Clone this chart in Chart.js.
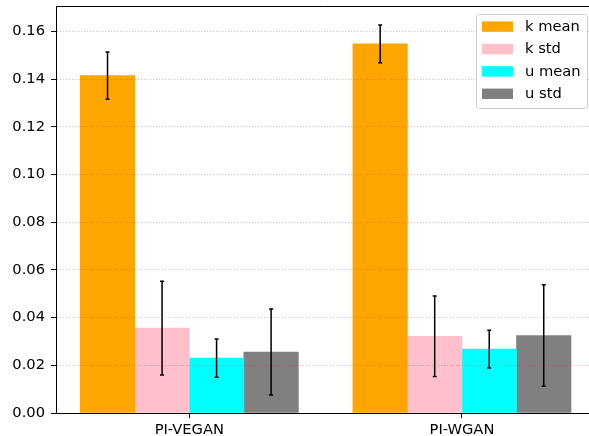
<!DOCTYPE html>
<html><head><meta charset="utf-8">
<script src="https://cdn.jsdelivr.net/npm/chart.js@4/dist/chart.umd.min.js"></script>
<style>html,body{margin:0;padding:0;background:#fff;overflow:hidden}canvas{display:block}</style>
</head><body><canvas id="c" width="589" height="436"></canvas>
<script>
const categories = ['PI-VEGAN', 'PI-WGAN'];
const seriesLabels = ['k mean', 'k std', 'u mean', 'u std'];
const kMean = [0.1415, 0.1548];
const kMeanErr = [0.0099, 0.0079];
const kStd = [0.0356, 0.0322];
const kStdErr = [0.0197, 0.0169];
const uMean = [0.0230, 0.0268];
const uMeanErr = [0.0080, 0.0079];
const uStd = [0.0256, 0.0325];
const uStdErr = [0.0180, 0.0213];
const yTicks = [0, 0.02, 0.04, 0.06, 0.08, 0.10, 0.12, 0.14, 0.16];

const colors = ['#FFA500', '#FFC0CB', '#00FFFF', '#808080'];
const means = [kMean, kStd, uMean, uStd];
const errs = [kMeanErr, kStdErr, uMeanErr, uStdErr];
const FONT = 14.7;

const datasets = seriesLabels.map((label, i) => ({
  label,
  data: means[i].map((v, j) => ({ x: j + (i - 1.5) * 0.2, y: v })),
  err: errs[i],
  backgroundColor: colors[i],
  borderWidth: 0,
  barPercentage: 1,
  categoryPercentage: 1,
  grouped: false
}));

const overlay = {
  id: 'overlay',
  afterDraw(chart) {
    const ctx = chart.ctx, ys = chart.scales.y, ca = chart.chartArea;
    ctx.save();
    // error bars
    ctx.strokeStyle = '#000';
    ctx.lineWidth = 1.5;
    chart.data.datasets.forEach((ds, i) => {
      const meta = chart.getDatasetMeta(i);
      meta.data.forEach((bar, j) => {
        const m = ds.data[j].y, e = ds.err[j];
        const x = bar.x;
        const t = ys.getPixelForValue(m + e), b = ys.getPixelForValue(m - e);
        ctx.beginPath();
        ctx.moveTo(x, t); ctx.lineTo(x, b);
        ctx.moveTo(x - 2, t); ctx.lineTo(x + 2, t);
        ctx.moveTo(x - 2, b); ctx.lineTo(x + 2, b);
        ctx.stroke();
      });
    });
    // top spine
    ctx.lineWidth = 1;
    ctx.beginPath();
    ctx.moveTo(ca.left, Math.round(ca.top) + 0.5);
    ctx.lineTo(ca.right, Math.round(ca.top) + 0.5);
    ctx.stroke();
    // legend
    const lx = 476.5, ly = 14.5, lw = 111, lh = 94, r = 3;
    ctx.beginPath();
    ctx.moveTo(lx + r, ly);
    ctx.lineTo(lx + lw - r, ly); ctx.arcTo(lx + lw, ly, lx + lw, ly + r, r);
    ctx.lineTo(lx + lw, ly + lh - r); ctx.arcTo(lx + lw, ly + lh, lx + lw - r, ly + lh, r);
    ctx.lineTo(lx + r, ly + lh); ctx.arcTo(lx, ly + lh, lx, ly + lh - r, r);
    ctx.lineTo(lx, ly + r); ctx.arcTo(lx, ly, lx + r, ly, r);
    ctx.closePath();
    ctx.fillStyle = 'rgba(255,255,255,0.8)';
    ctx.fill();
    ctx.strokeStyle = '#cccccc';
    ctx.stroke();
    ctx.font = FONT + 'px "DejaVu Sans"';
    ctx.textBaseline = 'middle';
    ctx.textAlign = 'left';
    chart.data.datasets.forEach((ds, i) => {
      const cy = 26.6 + i * 22.4;
      ctx.fillStyle = ds.backgroundColor;
      ctx.fillRect(482, cy - 5.2, 31, 10.4);
      ctx.fillStyle = '#000';
      ctx.fillText(ds.label, 525, cy + 0.5);
    });
    ctx.restore();
  }
};

new Chart(document.getElementById('c'), {
  type: 'bar',
  data: { datasets },
  options: {
    responsive: false,
    animation: false,
    devicePixelRatio: 1,
    layout: { padding: { top: 6, left: 0, right: 0, bottom: 0 } },
    plugins: { legend: { display: false }, tooltip: { enabled: false } },
    scales: {
      x: {
        type: 'linear',
        offset: false,
        min: -0.489,
        max: 1.466,
        afterBuildTicks: s => { s.ticks = categories.map((c, i) => ({ value: i })); },
        afterFit: s => { s.height = 23; s.paddingLeft = 0; s.paddingRight = 0; },
        ticks: {
          callback: v => categories[v],
          color: '#000',
          font: { family: 'DejaVu Sans', size: FONT },
          padding: 3,
          maxRotation: 0,
          autoSkip: false
        },
        grid: { offset: false, drawOnChartArea: false, tickColor: '#000', tickLength: 5, lineWidth: 1 },
        border: { color: '#000', width: 1 }
      },
      y: {
        min: 0,
        max: 0.1707,
        afterBuildTicks: s => { s.ticks = yTicks.map(v => ({ value: v })); },
        afterFit: s => { s.width = 56; s.paddingTop = 0; s.paddingBottom = 0; },
        ticks: {
          callback: v => Number(v).toFixed(2),
          color: '#000',
          font: { family: 'DejaVu Sans', size: FONT },
          padding: 6
        },
        grid: {
          z: 1,
          color: c => (c.tick && c.tick.value === 0) ? 'rgba(0,0,0,0)' : 'rgba(255,0,0,0.3)',
          lineWidth: 1,
          tickColor: '#000',
          tickBorderDash: [],
          tickLength: 5,
          tickWidth: 1
        },
        border: { color: '#000', width: 1, dash: [1, 2], z: 1 }
      }
    }
  },
  plugins: [overlay]
});
</script>
</body></html>
